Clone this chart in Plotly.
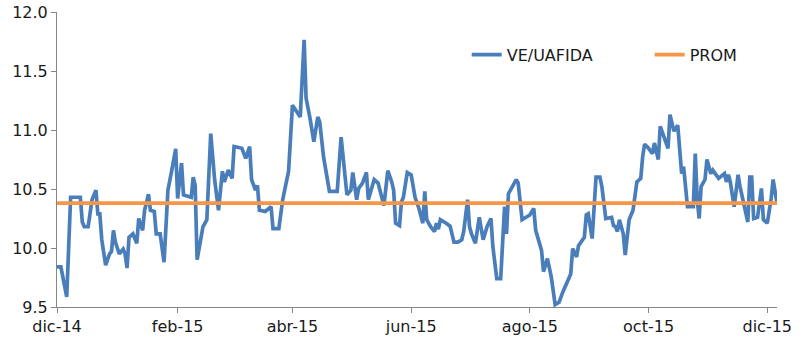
import plotly.graph_objects as go

dates = [
    "2014-12-01", "2014-12-03", "2014-12-06", "2014-12-08", "2014-12-10", "2014-12-13", "2014-12-14",
    "2014-12-15", "2014-12-17", "2014-12-19", "2014-12-21", "2014-12-22", "2014-12-23", "2014-12-24",
    "2014-12-26", "2014-12-28", "2014-12-29", "2014-12-30", "2014-12-31", "2015-01-02", "2015-01-04",
    "2015-01-05", "2015-01-06", "2015-01-07", "2015-01-09", "2015-01-11", "2015-01-12", "2015-01-14",
    "2015-01-15", "2015-01-17", "2015-01-18", "2015-01-20", "2015-01-21", "2015-01-23", "2015-01-25",
    "2015-01-27", "2015-01-29", "2015-01-31", "2015-02-01", "2015-02-03", "2015-02-04", "2015-02-08",
    "2015-02-09", "2015-02-10", "2015-02-11", "2015-02-13", "2015-02-14", "2015-02-16", "2015-02-18",
    "2015-02-20", "2015-02-22", "2015-02-24", "2015-02-25", "2015-02-27", "2015-03-01", "2015-03-02",
    "2015-03-06", "2015-03-08", "2015-03-10", "2015-03-11", "2015-03-13", "2015-03-14", "2015-03-15",
    "2015-03-18", "2015-03-21", "2015-03-22", "2015-03-25", "2015-03-27", "2015-03-30", "2015-04-01",
    "2015-04-04", "2015-04-05", "2015-04-07", "2015-04-08", "2015-04-10", "2015-04-12", "2015-04-14",
    "2015-04-15", "2015-04-17", "2015-04-20", "2015-04-24", "2015-04-26", "2015-04-29", "2015-05-01",
    "2015-05-02", "2015-05-04", "2015-05-05", "2015-05-07", "2015-05-09", "2015-05-10", "2015-05-13",
    "2015-05-15", "2015-05-18", "2015-05-20", "2015-05-22", "2015-05-23", "2015-05-24", "2015-05-26",
    "2015-05-27", "2015-05-28", "2015-05-30", "2015-06-01", "2015-06-03", "2015-06-05", "2015-06-07",
    "2015-06-08", "2015-06-09", "2015-06-11", "2015-06-13", "2015-06-14", "2015-06-15", "2015-06-16",
    "2015-06-19", "2015-06-21", "2015-06-23", "2015-06-25", "2015-06-27", "2015-06-28", "2015-06-30",
    "2015-07-01", "2015-07-02", "2015-07-04", "2015-07-06", "2015-07-08", "2015-07-10", "2015-07-12",
    "2015-07-13", "2015-07-15", "2015-07-17", "2015-07-19", "2015-07-20", "2015-07-21", "2015-07-25",
    "2015-07-26", "2015-07-28", "2015-07-30", "2015-08-01", "2015-08-03", "2015-08-04", "2015-08-07",
    "2015-08-08", "2015-08-10", "2015-08-12", "2015-08-14", "2015-08-16", "2015-08-18", "2015-08-20",
    "2015-08-22", "2015-08-23", "2015-08-25", "2015-08-26", "2015-08-29", "2015-08-30", "2015-08-31",
    "2015-09-02", "2015-09-04", "2015-09-06", "2015-09-07", "2015-09-09", "2015-09-12", "2015-09-13",
    "2015-09-14", "2015-09-15", "2015-09-16", "2015-09-18", "2015-09-19", "2015-09-21", "2015-09-22",
    "2015-09-23", "2015-09-25", "2015-09-27", "2015-09-28", "2015-09-29", "2015-10-01", "2015-10-03",
    "2015-10-04", "2015-10-06", "2015-10-07", "2015-10-09", "2015-10-11", "2015-10-12", "2015-10-14",
    "2015-10-16", "2015-10-18", "2015-10-19", "2015-10-21", "2015-10-24", "2015-10-25", "2015-10-26",
    "2015-10-27", "2015-10-28", "2015-10-30", "2015-10-31", "2015-11-02", "2015-11-03", "2015-11-06",
    "2015-11-09", "2015-11-10", "2015-11-11", "2015-11-12", "2015-11-14", "2015-11-16", "2015-11-17",
    "2015-11-19", "2015-11-21", "2015-11-22", "2015-11-23", "2015-11-24", "2015-11-26", "2015-11-28",
    "2015-11-29", "2015-12-01", "2015-12-03", "2015-12-04", "2015-12-06",
]

ve_uafida = [
    9.84, 9.84, 9.585, 10.43, 10.43, 10.43, 10.22,
    10.18, 10.18, 10.41, 10.49, 10.29, 10.29, 10.07,
    9.855, 9.95, 9.97, 10.15, 10.05, 9.95, 9.99,
    9.95, 9.83, 10.09, 10.12, 10.04, 10.25, 10.15,
    10.32, 10.455, 10.32, 10.31, 10.12, 10.12, 9.88,
    10.49, 10.66, 10.84, 10.42, 10.72, 10.45, 10.43,
    10.60, 10.53, 9.90, 10.07, 10.18, 10.24, 10.97,
    10.58, 10.32, 10.65, 10.56, 10.66, 10.59, 10.86,
    10.845, 10.76, 10.86, 10.58, 10.49, 10.53, 10.32,
    10.31, 10.35, 10.165, 10.165, 10.41, 10.65, 11.21,
    11.13, 11.11, 11.765, 11.27, 11.10, 10.90, 11.11,
    11.07, 10.77, 10.48, 10.48, 10.94, 10.45, 10.49,
    10.64, 10.41, 10.505, 10.55, 10.64, 10.41, 10.58,
    10.55, 10.36, 10.655, 10.56, 10.49, 10.21, 10.19,
    10.39, 10.43, 10.64, 10.62, 10.43, 10.335, 10.21,
    10.48, 10.24, 10.18, 10.14, 10.21, 10.16, 10.24,
    10.21, 10.185, 10.05, 10.05, 10.07, 10.14, 10.41,
    10.18, 10.12, 10.04, 10.26, 10.07, 10.18, 10.25,
    10.01, 9.74, 9.74, 10.35, 10.12, 10.46, 10.58,
    10.55, 10.24, 10.26, 10.28, 10.335, 10.15, 9.98,
    9.80, 9.91, 9.755, 9.52, 9.54, 9.63, 9.70,
    9.78, 9.995, 9.925, 10.02, 10.09, 10.28, 10.29,
    10.08, 10.60, 10.60, 10.52, 10.25, 10.26, 10.19,
    10.18, 10.14, 10.24, 10.12, 9.94, 10.24, 10.29,
    10.32, 10.56, 10.59, 10.78, 10.88, 10.845, 10.80,
    10.89, 10.75, 11.03, 10.94, 10.845, 11.13, 10.99,
    11.04, 10.63, 10.69, 10.35, 10.35, 10.80, 10.41,
    10.25, 10.52, 10.58, 10.75, 10.63, 10.66, 10.59,
    10.63, 10.56, 10.62, 10.56, 10.35, 10.62, 10.52,
    10.35, 10.22, 10.60, 10.60, 10.25, 10.26, 10.505,
    10.24, 10.21, 10.42, 10.58, 10.38,
]

prom_value = 10.38

tick_dates = ["2014-12-01", "2015-02-01", "2015-04-01", "2015-06-01",
              "2015-08-01", "2015-10-01", "2015-12-01"]
tick_labels = ["dic-14", "feb-15", "abr-15", "jun-15", "ago-15", "oct-15", "dic-15"]

y_ticks = [9.5, 10.0, 10.5, 11.0, 11.5, 12.0]

fig = go.Figure()
fig.add_trace(go.Scatter(
    x=dates, y=ve_uafida, mode="lines", name="VE/UAFIDA",
    line=dict(color="#4A7EBB", width=3.7),
))
fig.add_trace(go.Scatter(
    x=[dates[0], dates[-1]], y=[prom_value, prom_value], mode="lines", name="PROM",
    line=dict(color="#F79646", width=3.7),
))

axis_col = "#868686"
fig.update_layout(
    width=811, height=364,
    margin=dict(l=57, r=34, t=12, b=57, autoexpand=False),
    paper_bgcolor="white", plot_bgcolor="white",
    font=dict(family="DejaVu Sans", size=16, color="#1a1a1a"),
    showlegend=True,
    legend=dict(
        orientation="h", x=0.569, y=0.855, xanchor="left", yanchor="middle",
        bgcolor="rgba(0,0,0,0)", font=dict(size=16),
        entrywidth=138, entrywidthmode="pixels",
    ),
    xaxis=dict(
        type="date", range=[dates[0], dates[-1]], automargin=False,
        tickmode="array", tickvals=tick_dates, ticktext=tick_labels,
        showgrid=False, zeroline=False, ticklabeloverflow="allow",
        showline=True, linecolor=axis_col, linewidth=1,
        ticks="outside", ticklen=5, tickcolor=axis_col,
        tickfont=dict(size=16),
    ),
    yaxis=dict(
        range=[9.5, 12.0], tickmode="array", tickvals=y_ticks, automargin=False,
        tickformat=".1f", ticklabeloverflow="allow",
        showgrid=False, zeroline=False,
        showline=True, linecolor=axis_col, linewidth=1,
        ticks="outside", ticklen=5, tickcolor=axis_col,
        tickfont=dict(size=16),
    ),
)

fig.write_html("out.html", config={"displayModeBar": False},
               post_script="document.body.style.margin='0';")
